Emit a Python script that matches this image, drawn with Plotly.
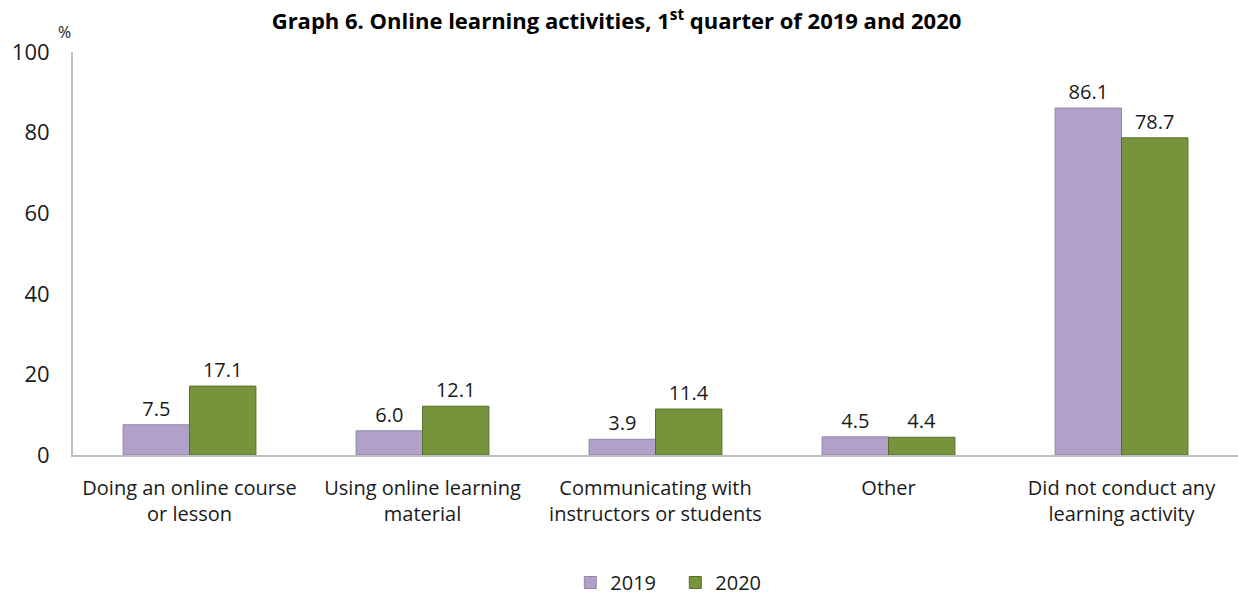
import plotly.graph_objects as go

categories = [
    "Doing an online course<br>or lesson",
    "Using online learning<br>material",
    "Communicating with<br>instructors or students",
    "Other",
    "Did not conduct any<br>learning activity",
]
values_2019 = [7.5, 6.0, 3.9, 4.5, 86.1]
values_2020 = [17.1, 12.1, 11.4, 4.4, 78.7]

FONT = "Open Sans, Liberation Sans, sans-serif"

fig = go.Figure()
fig.add_trace(go.Bar(
    name="2019", x=categories, y=values_2019,
    marker=dict(color="#B1A0C7", line=dict(color="#9385A8", width=1)),
    text=[f"{v:.1f}" for v in values_2019], textposition="outside",
    textfont=dict(size=20, color="#1a1a1a", family=FONT), cliponaxis=False,
))
fig.add_trace(go.Bar(
    name="2020", x=categories, y=values_2020,
    marker=dict(color="#77933C", line=dict(color="#55702A", width=1)),
    text=[f"{v:.1f}" for v in values_2020], textposition="outside",
    textfont=dict(size=20, color="#1a1a1a", family=FONT), cliponaxis=False,
))

fig.update_layout(
    width=1238, height=602,
    margin=dict(l=73, r=0, t=52, b=147, autoexpand=False),
    paper_bgcolor="white", plot_bgcolor="white",
    barmode="group", bargap=0.43, bargroupgap=0,
    font=dict(family=FONT, color="#1a1a1a"),
    title=dict(
        text="<b>Graph 6. Online learning activities, 1<sup>st</sup> quarter of 2019 and 2020</b>",
        x=0.498, xanchor="center", y=0.965, yanchor="middle",
        font=dict(size=22, family=FONT, color="#000"),
    ),
    showlegend=True,
    legend=dict(
        orientation="h", x=0.517, xanchor="center",
        yref="container", y=0.0, yanchor="bottom",
        font=dict(size=20, family=FONT), traceorder="normal",
        entrywidth=60, entrywidthmode="pixels",
    ),
)
fig.update_xaxes(
    showline=True, linecolor="#BFBFBF", linewidth=2, ticks="",
    tickfont=dict(size=20, family=FONT), showgrid=False,
    ticklabelstandoff=14, automargin=False,
)
fig.update_yaxes(
    range=[0, 100], tickvals=[0, 20, 40, 60, 80, 100],
    showline=True, linecolor="#BFBFBF", linewidth=2, ticks="",
    showgrid=False, zeroline=False, ticklabelstandoff=17,
    tickfont=dict(size=22, family=FONT), automargin=False,
)
fig.add_annotation(
    text="%", x=-0.007, xanchor="center", y=1.05, yanchor="middle",
    xref="paper", yref="paper", showarrow=False,
    font=dict(size=16, family=FONT),
)

fig.write_html("out.html")
